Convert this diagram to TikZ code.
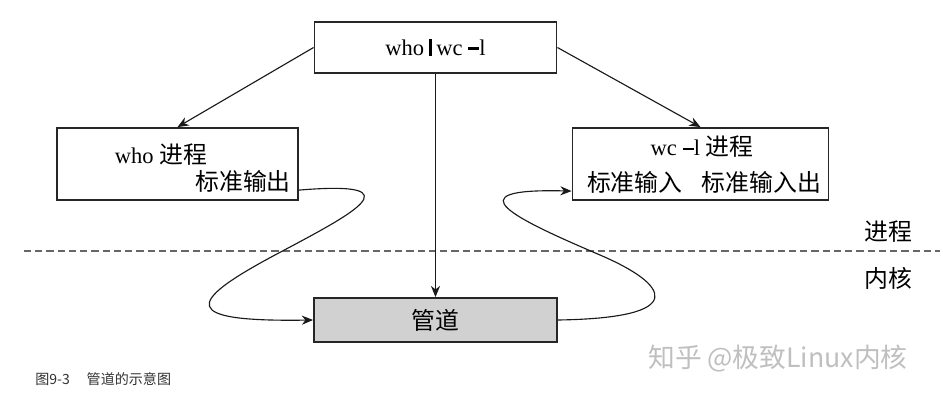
\documentclass[tikz,border=0pt]{standalone}
\usepackage{fontspec}
\setmainfont{Liberation Serif}
\newfontfamily\cjk[Scale=1.06]{Noto Sans CJK SC}
\newfontfamily\capfont{Noto Sans CJK SC}
\usetikzlibrary{arrows.meta}
\def\pipebar{\rule[-0.02em]{2.4pt}{0.74em}}
\def\optdash{\rule[0.26em]{0.5em}{1.5pt}}

\begin{document}
\begin{tikzpicture}[x=0.025cm, y=-0.025cm,
		box/.style={draw=black!85, line width=1.3pt, inner sep=0pt, font=\fontsize{16}{19}\selectfont},
		lbl/.style={inner sep=0pt, font=\fontsize{16}{19}\selectfont},
		link/.style={line width=0.8pt, color=black!90, -{Stealth[length=8pt, width=6.5pt]}}]
		%%%%% START %%%%%
		
		\useasboundingbox (0, 0) rectangle (943, 401);
		
		\node[box, minimum width=6.05cm, minimum height=1.275cm] (cmd) at (435.5, 47.5) {who\hspace{0.2em}\pipebar\hspace{0.2em}wc \optdash l};
		\node[box, minimum width=6.025cm, minimum height=1.8cm] (whobox) at (177.5, 164) {};
		\node[box, minimum width=6.4cm, minimum height=1.8cm] (wcbox) at (700.5, 164) {};
		\node[box, fill=black!18, minimum width=6.075cm, minimum height=1.1cm] (pipe) at (435.5, 320) {\cjk 管道};
		
		\node[lbl] (whotxt) at (161, 155) {who {\cjk 进程}};
		\node[lbl, anchor=east] (outtxt) at (291, 181) {\cjk 标准输出};
		\node[lbl] (wctxt) at (702, 147) {wc \optdash l {\cjk 进程}};
		\node[lbl] (intxt) at (704, 182) {\cjk 标准输入\hspace{0.8em}标准输入出};
		
		\coordinate (dl) at (24, 251);
		\coordinate (dr) at (940, 251);
		\draw[line width=1pt, color=black!60, dash pattern=on 5pt off 3pt] (dl) -- (dr);
		\node[lbl] (user) at (888, 232) {\cjk 进程};
		\node[lbl] (kern) at (888, 278) {\cjk 内核};
		
		\draw[link] (cmd.west) -- (whobox.north);
		\draw[link] (cmd.east) -- (wcbox.north);
		\draw[link] (cmd.south) -- (pipe.north);
		
		\draw[link] (whobox.east |- outtxt.base) .. controls (420, 180) and (350, 215) .. (275, 255)
			.. controls (185, 303) and (180, 322) .. (pipe.west);
		\draw[link] (pipe.east) .. controls (690, 318) and (670, 285) .. (600, 255)
			.. controls (516, 219) and (450, 188) .. (wcbox.west |- intxt.base);
		
		\node[anchor=west, inner sep=0pt, color=black!80, font=\capfont\fontsize{10}{12}\selectfont] (cap) at (35, 379) {图9-3\hspace{1.2em}管道的示意图};
		\node[anchor=west, inner sep=0pt, color=black!25, font=\capfont\fontsize{19}{22}\selectfont] (mark) at (648, 359) {知乎 @极致Linux内核};
		
		%%%%% END %%%%%
	\end{tikzpicture}
\end{document}
